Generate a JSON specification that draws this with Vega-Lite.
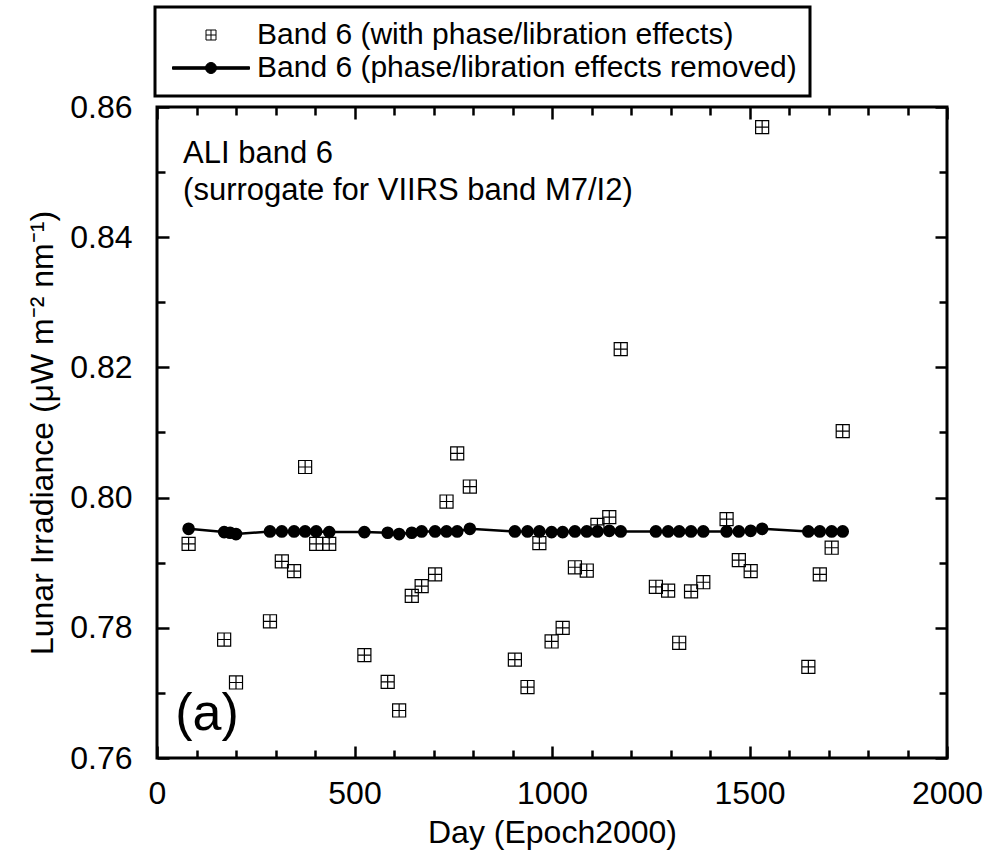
{
  "$schema": "https://vega.github.io/schema/vega-lite/v6.json",
  "width": 790,
  "height": 651,
  "autosize": {"type": "none"},
  "padding": {"left": 157, "top": 107, "right": 40, "bottom": 92},
  "config": {
    "font": "Liberation Sans",
    "view": {"stroke": "black", "strokeWidth": 3},
    "axis": {
      "grid": false,
      "domain": false,
      "tickColor": "black",
      "tickWidth": 2.5,
      "labelColor": "black",
      "titleColor": "black",
      "labelFont": "Liberation Sans",
      "titleFont": "Liberation Sans",
      "titleFontWeight": "normal",
      "labelFontSize": 32,
      "titleFontSize": 32,
      "labelFlush": false,
      "labelOverlap": false
    }
  },
  "datasets": {
    "with": [
      {"day": 80, "irradiance": 0.7929, "series": "Band 6 (with phase/libration effects)"},
      {"day": 170, "irradiance": 0.7782, "series": "Band 6 (with phase/libration effects)"},
      {"day": 200, "irradiance": 0.7716, "series": "Band 6 (with phase/libration effects)"},
      {"day": 286, "irradiance": 0.7810, "series": "Band 6 (with phase/libration effects)"},
      {"day": 316, "irradiance": 0.7902, "series": "Band 6 (with phase/libration effects)"},
      {"day": 347, "irradiance": 0.7887, "series": "Band 6 (with phase/libration effects)"},
      {"day": 375, "irradiance": 0.8047, "series": "Band 6 (with phase/libration effects)"},
      {"day": 403, "irradiance": 0.7929, "series": "Band 6 (with phase/libration effects)"},
      {"day": 436, "irradiance": 0.7929, "series": "Band 6 (with phase/libration effects)"},
      {"day": 525, "irradiance": 0.7758, "series": "Band 6 (with phase/libration effects)"},
      {"day": 584, "irradiance": 0.7717, "series": "Band 6 (with phase/libration effects)"},
      {"day": 613, "irradiance": 0.7673, "series": "Band 6 (with phase/libration effects)"},
      {"day": 645, "irradiance": 0.7849, "series": "Band 6 (with phase/libration effects)"},
      {"day": 670, "irradiance": 0.7864, "series": "Band 6 (with phase/libration effects)"},
      {"day": 704, "irradiance": 0.7882, "series": "Band 6 (with phase/libration effects)"},
      {"day": 733, "irradiance": 0.7994, "series": "Band 6 (with phase/libration effects)"},
      {"day": 760, "irradiance": 0.8068, "series": "Band 6 (with phase/libration effects)"},
      {"day": 792, "irradiance": 0.8017, "series": "Band 6 (with phase/libration effects)"},
      {"day": 906, "irradiance": 0.7751, "series": "Band 6 (with phase/libration effects)"},
      {"day": 938, "irradiance": 0.7709, "series": "Band 6 (with phase/libration effects)"},
      {"day": 968, "irradiance": 0.7930, "series": "Band 6 (with phase/libration effects)"},
      {"day": 999, "irradiance": 0.7779, "series": "Band 6 (with phase/libration effects)"},
      {"day": 1027, "irradiance": 0.7800, "series": "Band 6 (with phase/libration effects)"},
      {"day": 1058, "irradiance": 0.7893, "series": "Band 6 (with phase/libration effects)"},
      {"day": 1088, "irradiance": 0.7888, "series": "Band 6 (with phase/libration effects)"},
      {"day": 1115, "irradiance": 0.7958, "series": "Band 6 (with phase/libration effects)"},
      {"day": 1145, "irradiance": 0.7970, "series": "Band 6 (with phase/libration effects)"},
      {"day": 1174, "irradiance": 0.8228, "series": "Band 6 (with phase/libration effects)"},
      {"day": 1263, "irradiance": 0.7863, "series": "Band 6 (with phase/libration effects)"},
      {"day": 1294, "irradiance": 0.7857, "series": "Band 6 (with phase/libration effects)"},
      {"day": 1322, "irradiance": 0.7777, "series": "Band 6 (with phase/libration effects)"},
      {"day": 1352, "irradiance": 0.7856, "series": "Band 6 (with phase/libration effects)"},
      {"day": 1383, "irradiance": 0.7870, "series": "Band 6 (with phase/libration effects)"},
      {"day": 1442, "irradiance": 0.7967, "series": "Band 6 (with phase/libration effects)"},
      {"day": 1473, "irradiance": 0.7904, "series": "Band 6 (with phase/libration effects)"},
      {"day": 1503, "irradiance": 0.7887, "series": "Band 6 (with phase/libration effects)"},
      {"day": 1532, "irradiance": 0.8569, "series": "Band 6 (with phase/libration effects)"},
      {"day": 1649, "irradiance": 0.7740, "series": "Band 6 (with phase/libration effects)"},
      {"day": 1678, "irradiance": 0.7882, "series": "Band 6 (with phase/libration effects)"},
      {"day": 1708, "irradiance": 0.7923, "series": "Band 6 (with phase/libration effects)"},
      {"day": 1736, "irradiance": 0.8102, "series": "Band 6 (with phase/libration effects)"}
    ],
    "removed": [
      {"day": 80, "irradiance": 0.7952},
      {"day": 170, "irradiance": 0.7947},
      {"day": 185, "irradiance": 0.7946},
      {"day": 200, "irradiance": 0.7944},
      {"day": 286, "irradiance": 0.7948},
      {"day": 316, "irradiance": 0.7948},
      {"day": 347, "irradiance": 0.7948},
      {"day": 375, "irradiance": 0.7948},
      {"day": 403, "irradiance": 0.7948},
      {"day": 436, "irradiance": 0.7947},
      {"day": 525, "irradiance": 0.7947},
      {"day": 584, "irradiance": 0.7946},
      {"day": 613, "irradiance": 0.7944},
      {"day": 645, "irradiance": 0.7946},
      {"day": 670, "irradiance": 0.7948},
      {"day": 704, "irradiance": 0.7948},
      {"day": 733, "irradiance": 0.7948},
      {"day": 760, "irradiance": 0.7948},
      {"day": 792, "irradiance": 0.7952},
      {"day": 906, "irradiance": 0.7948},
      {"day": 938, "irradiance": 0.7948},
      {"day": 968, "irradiance": 0.7948},
      {"day": 999, "irradiance": 0.7947},
      {"day": 1027, "irradiance": 0.7947},
      {"day": 1058, "irradiance": 0.7948},
      {"day": 1088, "irradiance": 0.7948},
      {"day": 1115, "irradiance": 0.7948},
      {"day": 1145, "irradiance": 0.7949},
      {"day": 1174, "irradiance": 0.7948},
      {"day": 1263, "irradiance": 0.7948},
      {"day": 1294, "irradiance": 0.7948},
      {"day": 1322, "irradiance": 0.7948},
      {"day": 1352, "irradiance": 0.7948},
      {"day": 1383, "irradiance": 0.7948},
      {"day": 1442, "irradiance": 0.7948},
      {"day": 1473, "irradiance": 0.7948},
      {"day": 1503, "irradiance": 0.7949},
      {"day": 1532, "irradiance": 0.7952},
      {"day": 1649, "irradiance": 0.7948},
      {"day": 1678, "irradiance": 0.7948},
      {"day": 1708, "irradiance": 0.7948},
      {"day": 1736, "irradiance": 0.7948}
    ]
  },
  "resolve": {"axis": {"x": "independent", "y": "independent"}},
  "layer": [
    {
      "data": {"name": "with"},
      "mark": {"type": "point", "filled": false, "stroke": "black", "strokeWidth": 1.2, "size": 170, "opacity": 1},
      "encoding": {
        "x": {
          "field": "day", "type": "quantitative",
          "scale": {"domain": [0, 2000], "nice": false},
          "axis": {"orient": "bottom", "values": [0, 500, 1000, 1500, 2000], "format": "d", "tickSize": -12, "labelPadding": 32, "title": "Day (Epoch2000)", "titleY": 84, "titleBaseline": "alphabetic"}
        },
        "y": {
          "field": "irradiance", "type": "quantitative",
          "scale": {"domain": [0.76, 0.86], "nice": false, "zero": false},
          "axis": {"orient": "left", "values": [0.76, 0.78, 0.8, 0.82, 0.84, 0.86], "format": ".2f", "tickSize": -12, "labelPadding": 37, "title": "Lunar Irradiance (μW m⁻² nm⁻¹)", "titleX": -105, "titleY": 325.5, "titleAngle": 270, "titleAlign": "center", "titleBaseline": "alphabetic"}
        },
        "shape": {
          "field": "series", "type": "nominal",
          "scale": {
            "domain": ["Band 6 (with phase/libration effects)", "Band 6 (phase/libration effects removed)"],
            "range": ["M-1,-1H1V1H-1Z M0,-1V1 M-1,0H1", "M-7.7,-0.25H7.7V0.25H-7.7Z M1.1,0A1.1,1.1,0,1,1,-1.1,0A1.1,1.1,0,1,1,1.1,0Z"]
          },
          "legend": {"title": null, "orient": "none", "legendX": -2, "legendY": -100, "direction": "vertical", "strokeColor": "black", "padding": 13, "symbolSize": 100, "symbolStrokeWidth": 1, "symbolStrokeColor": "black", "symbolOpacity": 1, "symbolOffset": 28, "labelOffset": 31, "labelFontSize": 30, "labelLimit": 1000, "labelColor": "black", "labelFont": "Liberation Sans", "rowPadding": 3, "encode": {"legend": {"update": {"strokeWidth": {"value": 3}}}}}
        },
        "fill": {
          "field": "series", "type": "nominal",
          "scale": {
            "domain": ["Band 6 (with phase/libration effects)", "Band 6 (phase/libration effects removed)"],
            "range": ["transparent", "black"]
          },
          "legend": {"title": null, "orient": "none", "legendX": -2, "legendY": -100, "direction": "vertical", "strokeColor": "black", "padding": 13, "symbolSize": 100, "symbolStrokeWidth": 1, "symbolStrokeColor": "black", "symbolOpacity": 1, "symbolOffset": 28, "labelOffset": 31, "labelFontSize": 30, "labelLimit": 1000, "labelColor": "black", "labelFont": "Liberation Sans", "rowPadding": 3, "encode": {"legend": {"update": {"strokeWidth": {"value": 3}}}}}
        }
      }
    },
    {
      "data": {"name": "removed"},
      "mark": {"type": "line", "color": "black", "strokeWidth": 2.5},
      "encoding": {
        "x": {
          "field": "day", "type": "quantitative",
          "scale": {"domain": [0, 2000], "nice": false},
          "axis": {"orient": "bottom", "values": [100, 200, 300, 400, 600, 700, 800, 900, 1100, 1200, 1300, 1400, 1600, 1700, 1800, 1900], "tickSize": -8, "labels": false, "title": null}
        },
        "y": {
          "field": "irradiance", "type": "quantitative",
          "scale": {"domain": [0.76, 0.86], "nice": false, "zero": false},
          "axis": {"orient": "left", "values": [0.77, 0.79, 0.81, 0.83, 0.85], "tickSize": -8, "labels": false, "title": null}
        }
      }
    },
    {
      "data": {"name": "removed"},
      "mark": {"type": "point", "shape": "circle", "filled": true, "color": "black", "size": 160, "opacity": 1},
      "encoding": {
        "x": {
          "field": "day", "type": "quantitative",
          "scale": {"domain": [0, 2000], "nice": false},
          "axis": {"orient": "top", "values": [0, 500, 1000, 1500, 2000], "tickSize": -12, "labels": false, "title": null}
        },
        "y": {
          "field": "irradiance", "type": "quantitative",
          "scale": {"domain": [0.76, 0.86], "nice": false, "zero": false},
          "axis": {"orient": "right", "values": [0.76, 0.78, 0.8, 0.82, 0.84, 0.86], "tickSize": -12, "labels": false, "title": null}
        }
      }
    },
    {
      "data": {"values": [{"label": "ALI band 6"}]},
      "mark": {"type": "text", "align": "left", "baseline": "alphabetic", "fontSize": 31, "color": "black", "font": "Liberation Sans"},
      "encoding": {
        "x": {"datum": 66, "type": "quantitative", "scale": {"domain": [0, 2000], "nice": false},
          "axis": {"orient": "top", "values": [100, 200, 300, 400, 600, 700, 800, 900, 1100, 1200, 1300, 1400, 1600, 1700, 1800, 1900], "tickSize": -8, "labels": false, "title": null}},
        "y": {"datum": 0.8514, "type": "quantitative", "scale": {"domain": [0.76, 0.86], "nice": false, "zero": false},
          "axis": {"orient": "right", "values": [0.77, 0.79, 0.81, 0.83, 0.85], "tickSize": -8, "labels": false, "title": null}},
        "text": {"field": "label"}
      }
    },
    {
      "data": {"values": [{"label": "(surrogate for VIIRS band M7/I2)"}]},
      "mark": {"type": "text", "align": "left", "baseline": "alphabetic", "fontSize": 31, "color": "black", "font": "Liberation Sans"},
      "encoding": {
        "x": {"datum": 66, "type": "quantitative", "axis": null},
        "y": {"datum": 0.8457, "type": "quantitative", "axis": null},
        "text": {"field": "label"}
      }
    },
    {
      "data": {"values": [{"label": "(a)"}]},
      "mark": {"type": "text", "align": "left", "baseline": "alphabetic", "fontSize": 52, "color": "black", "font": "Liberation Sans"},
      "encoding": {
        "x": {"datum": 46, "type": "quantitative", "axis": null},
        "y": {"datum": 0.7643, "type": "quantitative", "axis": null},
        "text": {"field": "label"}
      }
    }
  ]
}
